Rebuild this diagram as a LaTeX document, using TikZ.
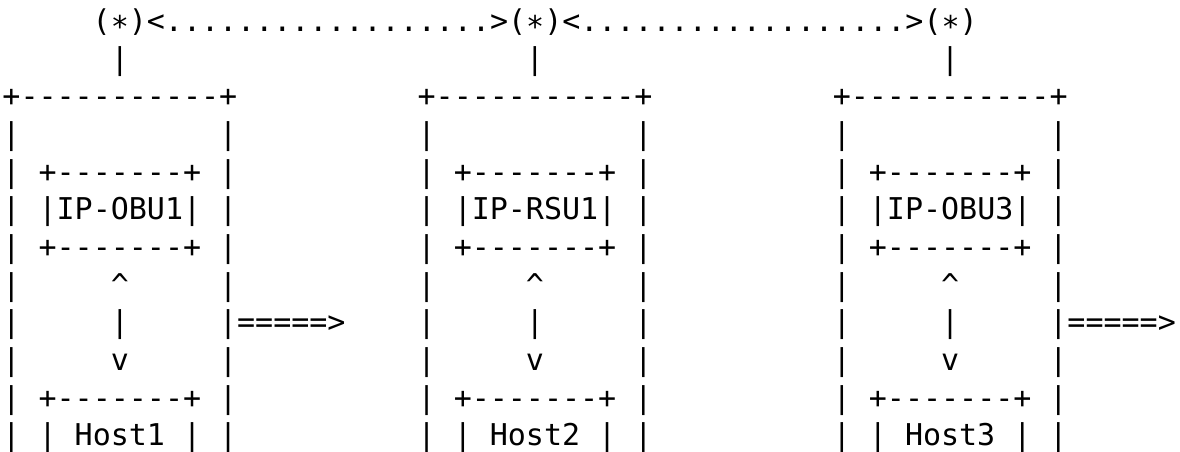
\documentclass[tikz,border=0pt]{standalone}
\usepackage{fontspec}
\setmonofont{DejaVu Sans Mono}
\newcommand\lowstar{\raisebox{-0.2em}{*}}
\tikzset{
  t/.style={anchor=base west, inner sep=0pt, outer sep=0pt,
    font=\ttfamily\fontsize{15}{18}\selectfont, text=black}
}
\newcommand\hostbox[4]{%
  \node[t] (#1pole) at (#2+6,1) {|};
  \node[t] (#1top) at (#2,2) {+-----------+};
  \foreach \r in {3,...,11} {
    \node[t] (#1l\r) at (#2,\r) {|};
    \node[t] (#1r\r) at (#2+12,\r) {|};
  }
  \node[t] (#1ia) at (#2+2,4) {+-------+};
  \node[t] (#1ip) at (#2+2,5) {|#3|};
  \node[t] (#1ib) at (#2+2,6) {+-------+};
  \node[t] (#1up) at (#2+6,7) {\textasciicircum};
  \node[t] (#1mid) at (#2+6,8) {|};
  \node[t] (#1dn) at (#2+6,9) {v};
  \node[t] (#1ha) at (#2+2,10) {+-------+};
  \node[t] (#1hl) at (#2+2,11) {|};
  \node[t] (#1host) at (#2+4,11) {#4};
  \node[t] (#1hr) at (#2+10,11) {|};
}
\begin{document}
\begin{tikzpicture}
\useasboundingbox[fill=white] (0pt,0pt) rectangle (590pt,-225.5pt);
\begin{scope}[shift={(1.25pt,-15.78pt)}, x=9.025pt, y=-18.835pt]
  \node[t] (link) at (5,0) {(\lowstar)<..................>(\lowstar)<..................>(\lowstar)};
  \hostbox{a}{0}{IP-OBU1}{Host1}
  \hostbox{b}{23}{IP-RSU1}{Host2}
  \hostbox{c}{46}{IP-OBU3}{Host3}
  \node[t] (amove) at (13,8) {=====>};
  \node[t] (cmove) at (59,8) {=====>};
\end{scope}
\end{tikzpicture}
\end{document}
